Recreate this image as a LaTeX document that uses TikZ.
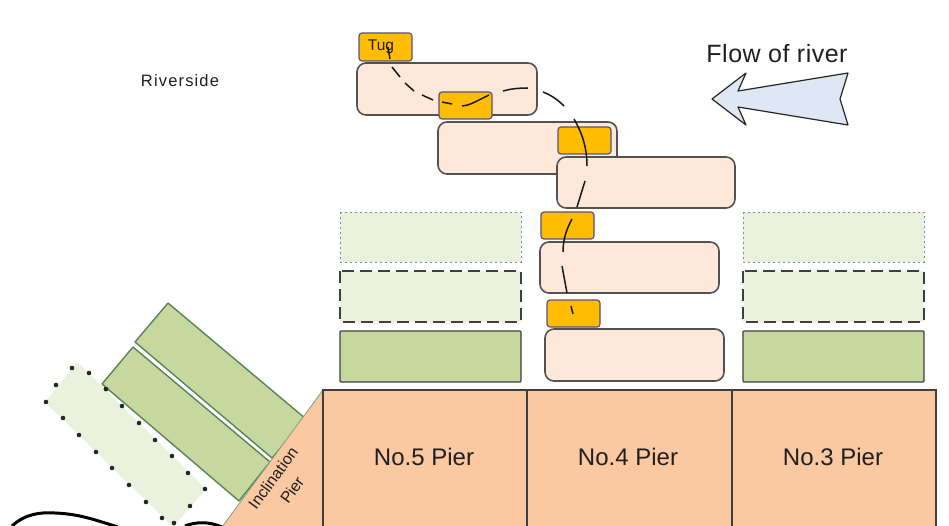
\documentclass[tikz,border=0pt]{standalone}
\usepackage{fontspec}
\setmainfont{Liberation Sans}
\newfontfamily\wideA[LetterSpace=7]{Liberation Sans}
\newfontfamily\wideB[LetterSpace=2]{Liberation Sans}
\definecolor{solidgreen}{HTML}{C6D89E}
\definecolor{palegreen}{HTML}{EAF2DD}
\definecolor{bargefill}{HTML}{FDE8DA}
\definecolor{pierfill}{HTML}{FAC9A2}
\definecolor{tugfill}{HTML}{FFBC00}
\definecolor{inkgrey}{HTML}{3F3F3F}
\definecolor{arrowfill}{HTML}{DEE7F3}
\tikzset{
  barge/.style={draw=black!68,fill=bargefill,line width=1.6pt,rounded corners=9pt},
  tugboat/.style={draw=black!40!blue!35!gray,fill=tugfill,line width=1.2pt,rounded corners=3pt},
  solidberth/.style={draw=inkgrey,fill=solidgreen,line width=1.3pt,rounded corners=1pt},
  dashberth/.style={draw=inkgrey,fill=palegreen,line width=1.7pt,dash pattern=on 12pt off 6pt},
  dotberth/.style={draw=black!45,fill=palegreen,line width=.9pt,dash pattern=on 2pt off 3pt},
  tiltberth/.style={draw=green!25!black!65,fill=solidgreen,line width=1.4pt,line join=round},
  pierbox/.style={draw=inkgrey,fill=pierfill,line width=1.4pt},
  track/.style={draw=black!90,line width=1.5pt},
  label/.style={inner sep=0pt,text=black!88},
}
\begin{document}
\begin{tikzpicture}[x=1pt,y=-1pt]
\useasboundingbox (0,0) rectangle (949,526);
\clip (0,0) rectangle (949,526);
\fill[white] (0,0) rectangle (949,526);

% inclined berths
\fill[palegreen] (77,362) -- (206,489) -- (173,527) -- (45,402) -- cycle;
\foreach \p in {(72,368),(89,373),(56,385),(46,402),(106,389),(122,406),(139,423),(155,440),(172,456),(188,473),(205,489),(190,506),(174,523),(162,518),(146,502),(129,485),(112,468),(96,452),(79,435),(63,418)}
  \fill[black!85] \p circle (2.3pt);
\draw[tiltberth] (168,303) -- (306,419) -- (272,458) -- (135,342) -- cycle;
\draw[tiltberth] (133,347) -- (270,462) -- (239,501) -- (102,384) -- cycle;
\fill[black!85] (106,389) circle (2.3pt);

% inclination pier
\fill[pierfill] (323,390) -- (323,527) -- (222,527) -- cycle;
\draw[draw=green!25!black!50,line width=.8pt] (323,390) -- (222,527);

% piers
\draw[pierbox] (323,390) rectangle (527,530);
\draw[pierbox] (527,390) rectangle (732,530);
\draw[pierbox] (732,390) rectangle (936,530);
\node[label] (p5) at (424,457) {\fontsize{24}{28}\selectfont No.5 Pier};
\node[label] (p4) at (628,457) {\fontsize{24}{28}\selectfont No.4 Pier};
\node[label] (p3) at (833,457) {\fontsize{24}{28}\selectfont No.3 Pier};
\node[label,rotate=54] (incl) at (273,478) {\fontsize{16}{18}\selectfont Inclination};
\node[label,rotate=54] (ipier) at (292,490) {\fontsize{16}{18}\selectfont Pier};

% straight berths
\draw[dotberth] (340,212) rectangle (521,262);
\draw[dashberth] (340,271) rectangle (521,322);
\draw[solidberth] (340,331) rectangle (521,382);
\draw[dotberth] (743,212) rectangle (924,262);
\draw[dashberth] (743,271) rectangle (924,322);
\draw[solidberth] (743,331) rectangle (924,382);

% barges and tugs
\draw[barge] (357,63) rectangle (537,115);
\draw[barge] (438,122) rectangle (617,174);
\draw[tugboat] (558,127) rectangle (611,154);
\draw[barge] (557,157) rectangle (735,208);
\draw[barge] (540,242) rectangle (719,293);
\draw[barge] (545,329) rectangle (724,381);
\draw[tugboat] (359,33) rectangle (412,61);
\draw[tugboat] (439,92) rectangle (492,119);
\draw[tugboat] (541,212) rectangle (594,239);
\draw[tugboat] (547,300) rectangle (600,327);
\node[label] (tug) at (381,47) {\fontsize{15.5}{18}\selectfont Tug};

% track
\draw[track] (388,47) -- (390,59);
\draw[track] (392,67) -- (400,77);
\draw[track] (405,83) -- (414,91);
\draw[track] (422,95) -- (433,100);
\draw[track] (442,102) -- (452,104);
\draw[track] (462,106) .. controls (468,106) and (475,102) .. (489,95);
\draw[track] (503,91) .. controls (510,89) and (518,88) .. (528,88);
\draw[track] (543,92) .. controls (551,95) and (558,100) .. (564,106);
\draw[track] (574,119) .. controls (581,131) and (587,146) .. (587,166);
\draw[track] (585,181) -- (577,207);
\draw[track] (572,219) .. controls (566,230) and (563,240) .. (563,252);
\draw[track] (562,266) -- (567,293);
\draw[track] (571,306) -- (573,314);

% river arrow
\draw[draw=black!85,fill=arrowfill,line width=1.2pt,line join=round]
  (712,99) -- (746,73) -- (738,91) -- (848,73) -- (840,99) -- (848,125) -- (738,107) -- (746,125) -- cycle;
\node[label] (flow) at (777,54) {\wideB\fontsize{25}{28}\selectfont Flow of river};
\node[label] (side) at (180,81) {\wideA\fontsize{16.5}{20}\selectfont Riverside};

% shoreline
\draw[black,line width=3pt] (12,526) .. controls (25,514) and (40,512) .. (55,513) .. controls (80,514) and (95,520) .. (118,527);
\draw[black,line width=3pt] (185,526) .. controls (195,522) and (208,521) .. (222,527);
\end{tikzpicture}
\end{document}
